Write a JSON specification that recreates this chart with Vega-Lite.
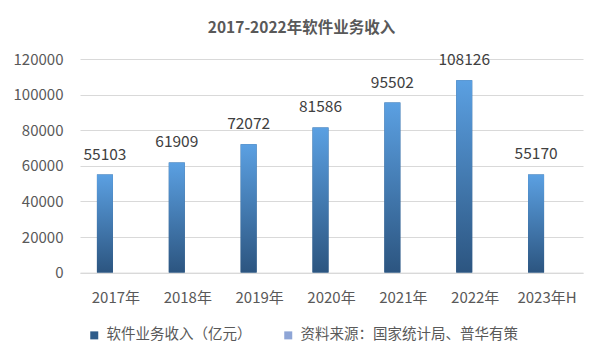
{
  "$schema": "https://vega.github.io/schema/vega-lite/v6.json",
  "width": 503,
  "height": 213.6,
  "autosize": {"type": "none"},
  "padding": {"left": 80, "top": 59, "right": 18, "bottom": 88.4},
  "background": "white",
  "title": {
    "text": "2017-2022年软件业务收入",
    "fontSize": 15.5,
    "font": "Noto Sans CJK SC",
    "fontWeight": "bold",
    "color": "#595959",
    "anchor": "middle",
    "dx": -30,
    "offset": 9,
    "baseline": "middle"
  },
  "data": {
    "values": [
      {"year": "2017年", "series": "软件业务收入（亿元）", "value": 55103},
      {"year": "2018年", "series": "软件业务收入（亿元）", "value": 61909},
      {"year": "2019年", "series": "软件业务收入（亿元）", "value": 72072},
      {"year": "2020年", "series": "软件业务收入（亿元）", "value": 81586},
      {"year": "2021年", "series": "软件业务收入（亿元）", "value": 95502},
      {"year": "2022年", "series": "软件业务收入（亿元）", "value": 108126},
      {"year": "2023年H", "series": "软件业务收入（亿元）", "value": 55170},
      {"year": "2017年", "series": "资料来源：国家统计局、普华有策", "value": 0},
      {"year": "2018年", "series": "资料来源：国家统计局、普华有策", "value": 0},
      {"year": "2019年", "series": "资料来源：国家统计局、普华有策", "value": 0},
      {"year": "2020年", "series": "资料来源：国家统计局、普华有策", "value": 0},
      {"year": "2021年", "series": "资料来源：国家统计局、普华有策", "value": 0},
      {"year": "2022年", "series": "资料来源：国家统计局、普华有策", "value": 0},
      {"year": "2023年H", "series": "资料来源：国家统计局、普华有策", "value": 0}
    ]
  },
  "encoding": {
    "x": {
      "field": "year",
      "type": "nominal",
      "sort": null,
      "scale": {"paddingInner": 0.388, "paddingOuter": 0.194},
      "axis": {
        "title": null,
        "labelAngle": 0,
        "ticks": false,
        "labelPadding": 18,
        "labelFont": "Noto Sans CJK SC",
        "labelFontSize": 15,
        "labelColor": "#595959",
        "domainColor": "#D9D9D9",
        "domainWidth": 1
      }
    },
    "xOffset": {
      "field": "series",
      "type": "nominal",
      "sort": null,
      "scale": {"domain": ["软件业务收入（亿元）", "资料来源：国家统计局、普华有策"], "paddingInner": 0.273, "paddingOuter": 0.136}
    },
    "y": {
      "field": "value",
      "type": "quantitative",
      "scale": {"domain": [0, 120000], "nice": false},
      "axis": {
        "title": null,
        "values": [0, 20000, 40000, 60000, 80000, 100000, 120000],
        "format": "d",
        "ticks": false,
        "domain": false,
        "labelPadding": 17,
        "labelFont": "Noto Sans CJK SC",
        "labelFontSize": 15,
        "labelColor": "#595959",
        "gridColor": "#D9D9D9",
        "gridWidth": 1
      }
    }
  },
  "layer": [
    {
      "mark": {"type": "bar"},
      "encoding": {
        "color": {
          "field": "series",
          "type": "nominal",
          "sort": null,
          "scale": {"domain": ["软件业务收入（亿元）", "资料来源：国家统计局、普华有策"], "range": ["#2E5C8A", "#8EA5D6"]},
          "legend": {
            "orient": "none",
            "legendX": 7,
            "legendY": 269,
            "direction": "horizontal",
            "title": null,
            "symbolType": "square",
            "symbolSize": 64,
            "symbolStrokeWidth": 0,
            "labelFont": "Noto Sans CJK SC",
            "labelFontSize": 14.5,
            "labelColor": "#595959",
            "labelLimit": 400,
            "columnPadding": 29,
            "labelOffset": 5,
            "padding": 0
          }
        }
      }
    },
    {
      "transform": [{"filter": "datum.series == '软件业务收入（亿元）'"}],
      "mark": {
        "type": "bar",
        "fill": {
          "gradient": "linear",
          "x1": 0, "y1": 0, "x2": 0, "y2": 1,
          "stops": [
            {"offset": 0, "color": "#5BA0E2"},
            {"offset": 1, "color": "#2C5580"}
          ]
        }
      }
    },
    {
      "transform": [{"filter": "datum.series == '软件业务收入（亿元）'"}],
      "mark": {
        "type": "text",
        "dy": -20,
        "baseline": "middle",
        "font": "Noto Sans CJK SC",
        "fontSize": 15.5,
        "color": "#404040"
      },
      "encoding": {
        "text": {"field": "value", "type": "quantitative", "format": "d"}
      }
    }
  ],
  "config": {"view": {"stroke": null}}
}
